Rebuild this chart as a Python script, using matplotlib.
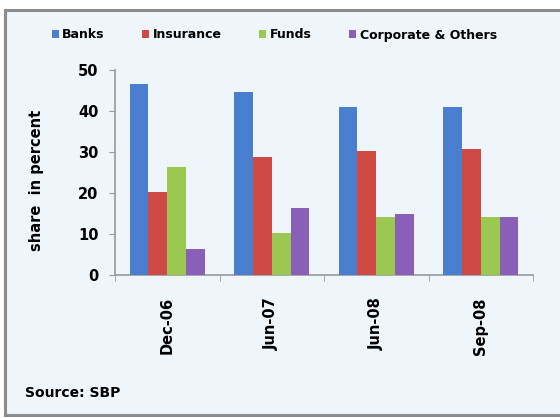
import matplotlib
matplotlib.use("Agg")
import matplotlib.pyplot as plt
import numpy as np
from matplotlib.patches import Rectangle

periods = ["Dec-06", "Jun-07", "Jun-08", "Sep-08"]
series_names = ["Banks", "Insurance", "Funds", "Corporate & Others"]
banks = [46.6, 44.6, 40.9, 40.9]
insurance = [20.3, 28.9, 30.2, 30.7]
funds = [26.4, 10.2, 14.1, 14.1]
corporate = [6.3, 16.4, 15.0, 14.1]
y_ticks = [0, 10, 20, 30, 40, 50]

colors = ["#4a7fd0", "#d04a45", "#9bc850", "#8a5fb8"]
bg = "#eef5fb"

fig = plt.figure(figsize=(5.6, 4.18), dpi=100)
fig.patch.set_facecolor("white")

# outer chart panel
panel = Rectangle((5 / 560, 1 - 415 / 418), 1.2, (415 - 10) / 418,
                  transform=fig.transFigure, facecolor=bg,
                  edgecolor="#8c8c8c", linewidth=2.2, zorder=-1)
fig.patches.append(panel)

ax = fig.add_axes([115 / 560, 1 - 275 / 418, (533 - 115) / 560, (275 - 70) / 418])
ax.set_facecolor("none")
ax.set_zorder(2)

x = np.arange(len(periods))
w = 0.18
data = [banks, insurance, funds, corporate]
for i, (vals, c, name) in enumerate(zip(data, colors, series_names)):
    ax.bar(x + (i - 1.5) * w, vals, width=w, color=c, label=name, zorder=3)

ax.set_xlim(-0.5, len(periods) - 0.5)
ax.set_ylim(0, 50)
ax.set_yticks(y_ticks)
ax.set_yticklabels([str(v) for v in y_ticks], fontsize=10.5, fontweight="bold")

ax.set_xticks(x)
ax.set_xticklabels(periods, rotation=90, fontsize=10.5, fontweight="bold")
ax.tick_params(axis="x", which="major", length=0, pad=16)
ax.set_xticks(np.arange(-0.5, len(periods), 1.0), minor=True)
ax.tick_params(axis="x", which="minor", length=4, color="#999999", direction="out")
ax.tick_params(axis="y", length=4, color="#999999", direction="out", pad=8)

for s in ["top", "right"]:
    ax.spines[s].set_visible(False)
for s in ["left", "bottom"]:
    ax.spines[s].set_color("#999999")
    ax.spines[s].set_linewidth(1.2)

ax.set_ylabel("share  in percent", fontsize=10.5, fontweight="bold")
ax.yaxis.set_label_coords(-71 / 418, 0.46)

handles, labels = ax.get_legend_handles_labels()
fig.legend(handles, labels, loc="center", bbox_to_anchor=(0.49, 1 - 35 / 418),
           ncol=4, frameon=False, handlelength=0.55, handleheight=0.55,
           handletextpad=0.3, columnspacing=3.0,
           prop={"weight": "bold", "size": 9})

fig.text(25 / 560, 1 - 393 / 418, "Source: SBP", fontsize=10, fontweight="bold",
         va="center", ha="left")

fig.savefig("out.png", dpi=100, facecolor=fig.get_facecolor())
